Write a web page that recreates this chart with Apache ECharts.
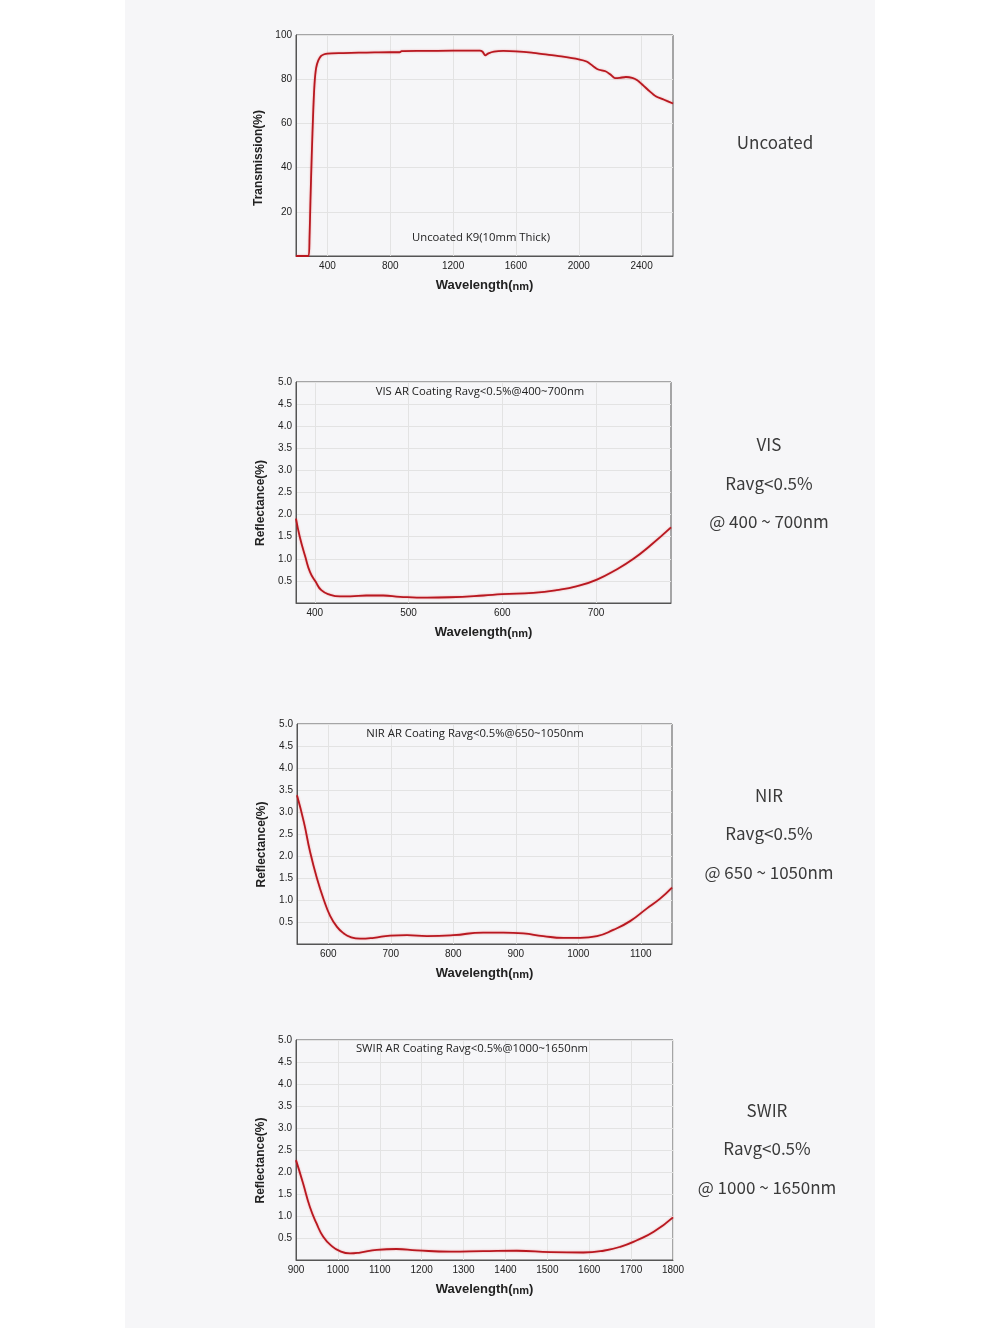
<!DOCTYPE html>
<html><head><meta charset="utf-8">
<script src="https://cdn.jsdelivr.net/npm/echarts@6/dist/echarts.min.js"></script>
<style>html,body{margin:0;padding:0;background:#fff}#c{width:1000px;height:1328px}</style>
</head><body><div id="c"></div>
<script>
// ---------- data ----------
const k9Wavelength   = [200, 240, 280, 286, 292, 300, 310, 318, 328, 342, 360, 380, 400, 500, 600, 700, 800, 860, 872, 1000, 1200, 1370, 1388, 1405, 1425, 1460, 1520, 1600, 1700, 1800, 1900, 2000, 2050, 2090, 2120, 2170, 2200, 2230, 2260, 2300, 2340, 2370, 2410, 2450, 2490, 2540, 2600];
const k9Transmission = [0, 0, 0, 8, 25, 45, 66, 78, 85, 88.5, 90.5, 91.3, 91.6, 91.8, 92.0, 92.1, 92.2, 92.2, 92.7, 92.8, 92.9, 92.9, 92.4, 90.8, 91.7, 92.5, 92.8, 92.6, 92.0, 91.1, 90.2, 89.0, 88.0, 86.0, 84.5, 83.6, 82.2, 80.5, 80.6, 81.0, 80.6, 79.6, 77.2, 74.6, 72.3, 70.8, 69.0];

const visWavelength  = [380, 384, 390, 395, 401, 407, 416, 427, 438, 455, 473, 491, 520, 544, 580, 600, 633, 658, 680, 701, 722, 740, 758, 780];
const visReflectance = [1.91, 1.50, 1.04, 0.70, 0.48, 0.29, 0.19, 0.15, 0.15, 0.17, 0.17, 0.14, 0.12, 0.13, 0.17, 0.20, 0.23, 0.29, 0.38, 0.53, 0.76, 1.00, 1.30, 1.71];

const nirWavelength  = [550, 561, 571, 582, 593, 603, 614, 625, 635, 651, 673, 699, 726, 758, 800, 848, 880, 912, 944, 976, 1003, 1030, 1056, 1083, 1110, 1131, 1150];
const nirReflectance = [3.38, 2.77, 2.09, 1.49, 1.00, 0.64, 0.39, 0.24, 0.16, 0.12, 0.14, 0.19, 0.20, 0.18, 0.20, 0.26, 0.26, 0.24, 0.18, 0.14, 0.14, 0.18, 0.32, 0.52, 0.81, 1.03, 1.28];

const swirWavelength  = [900, 917, 933, 949, 965, 985, 1005, 1029, 1053, 1093, 1140, 1188, 1268, 1347, 1427, 1507, 1586, 1634, 1674, 1714, 1754, 1800];
const swirReflectance = [2.27, 1.74, 1.21, 0.83, 0.53, 0.32, 0.20, 0.15, 0.17, 0.23, 0.25, 0.22, 0.19, 0.20, 0.21, 0.18, 0.17, 0.21, 0.30, 0.45, 0.64, 0.97];

const k9Ticks   = [400, 800, 1200, 1600, 2000, 2400];
const visTicks  = [400, 500, 600, 700];
const nirTicks  = [600, 700, 800, 900, 1000, 1100];
const swirTicks = [900, 1000, 1100, 1200, 1300, 1400, 1500, 1600, 1700, 1800];

const chartNotes = ['Uncoated K9(10mm Thick)', 'VIS AR Coating Ravg<0.5%@400~700nm', 'NIR AR Coating Ravg<0.5%@650~1050nm', 'SWIR AR Coating Ravg<0.5%@1000~1650nm'];
const sideLabels = [['Uncoated'], ['VIS', 'Ravg<0.5%', '@ 400 ~ 700nm'], ['NIR', 'Ravg<0.5%', '@ 650 ~ 1050nm'], ['SWIR', 'Ravg<0.5%', '@ 1000 ~ 1650nm']];
const yNames = ['Transmission(%)', 'Reflectance(%)', 'Reflectance(%)', 'Reflectance(%)'];

// ---------- layout ----------
const grids = [
  {left: 296, top: 35, width: 377, height: 221},
  {left: 296, top: 382, width: 375, height: 221},
  {left: 297, top: 724, width: 375, height: 220},
  {left: 296, top: 1040, width: 377, height: 220}
];
const xRanges = [[200, 2600], [380, 780], [550, 1150], [900, 1800]];
const xTickSets = [k9Ticks, visTicks, nirTicks, swirTicks];
const yCfg = [
  {min: 0, max: 100, interval: 20, fmt: v => v === 0 ? '' : String(v)},
  {min: 0, max: 5, interval: 0.5, fmt: v => v === 0 ? '' : v.toFixed(1)},
  {min: 0, max: 5, interval: 0.5, fmt: v => v === 0 ? '' : v.toFixed(1)},
  {min: 0, max: 5, interval: 0.5, fmt: v => v === 0 ? '' : v.toFixed(1)}
];
const notePos = [[481, 238], [480, 392], [475, 734], [472, 1049]];
const sidePos = [[775, [143]], [769, [445, 484, 522]], [769, [796, 834, 873]], [767, [1111, 1149, 1188]]];

const FONT = 'Liberation Sans, Arial, sans-serif';
const lineColor = '#b81820';
const gridColor = '#e3e3e3';
const frameColor = '#555';

const xAxes = grids.map((g, i) => {
  const ax = {
    type: 'value', gridIndex: i, min: xRanges[i][0], max: xRanges[i][1],
    axisLine: {show: true, lineStyle: {color: frameColor, width: 1}},
    axisTick: {show: false},
    axisLabel: {color: '#222', fontSize: 10, margin: 5, fontFamily: FONT, formatter: v => String(v)},
    splitLine: {show: true, lineStyle: {color: gridColor, width: 1}},
    name: '{a|Wavelength(}{b|nm}{a|)}', nameLocation: 'middle', nameGap: 23,
    nameTextStyle: {rich: {
      a: {fontSize: 13, fontWeight: 'bold', color: '#222', fontFamily: FONT},
      b: {fontSize: 11, fontWeight: 'bold', color: '#222', fontFamily: FONT, padding: [2, 0, 0, 0]}
    }}
  };
  if (i === 3) {
    ax.interval = 100;
  } else {
    ax.axisLabel.customValues = xTickSets[i];
    ax.axisTick.customValues = xTickSets[i];
    ax.splitLine.customValues = xTickSets[i];
  }
  return ax;
});

const yAxes = grids.map((g, i) => ({
  type: 'value', gridIndex: i, min: yCfg[i].min, max: yCfg[i].max, interval: yCfg[i].interval,
  axisLine: {show: true, lineStyle: {color: frameColor, width: 1}},
  axisTick: {show: false},
  axisLabel: {color: '#222', fontSize: 10, margin: 4, fontFamily: FONT, formatter: yCfg[i].fmt},
  splitLine: {show: true, lineStyle: {color: gridColor, width: 1}},
  name: yNames[i], nameLocation: 'middle', nameGap: i === 0 ? 31 : 29, nameRotate: 90,
  nameTextStyle: {fontSize: 12, fontWeight: 'bold', color: '#222', fontFamily: FONT, padding: [0, i === 0 ? 25 : 21, 0, 0]}
}));

const seriesData = [
  [k9Wavelength, k9Transmission],
  [visWavelength, visReflectance],
  [nirWavelength, nirReflectance],
  [swirWavelength, swirReflectance]
];
const series = seriesData.map((d, i) => ({
  type: 'line', xAxisIndex: i, yAxisIndex: i, showSymbol: false, silent: true,
  smooth: i === 0 ? 0.25 : 0.5,
  data: d[0].map((x, k) => [x, d[1][k]]),
  lineStyle: {color: lineColor, width: 1.8, shadowColor: 'rgba(230,40,40,0.4)', shadowBlur: 2}
}));

const graphic = [{type: 'rect', left: 125, top: 0, shape: {width: 750, height: 1328}, style: {fill: '#f6f6f8'}, z: -10, silent: true}];
chartNotes.forEach((t, i) => {
  graphic.push({type: 'text', x: notePos[i][0], y: notePos[i][1], z: 10,
    style: {text: t, fill: '#222', font: '11.3px "Open Sans", sans-serif', textAlign: 'center', textVerticalAlign: 'middle'}});
});
sideLabels.forEach((lines, i) => {
  lines.forEach((t, k) => {
    graphic.push({type: 'text', x: sidePos[i][0], y: sidePos[i][1][k], z: 10,
      style: {text: t, fill: '#3a3a3a', font: '17px "Noto Sans CJK SC", "Noto Sans", sans-serif', textAlign: 'center', textVerticalAlign: 'middle'}});
  });
});

const chart = echarts.init(document.getElementById('c'), null, {renderer: 'canvas'});
chart.setOption({
  backgroundColor: '#ffffff',
  animation: false,
  grid: grids.map(g => Object.assign({show: true, borderColor: frameColor, borderWidth: 1, backgroundColor: 'transparent', containLabel: false}, g)),
  xAxis: xAxes,
  yAxis: yAxes,
  series: series,
  graphic: graphic
});
</script>
</body></html>
